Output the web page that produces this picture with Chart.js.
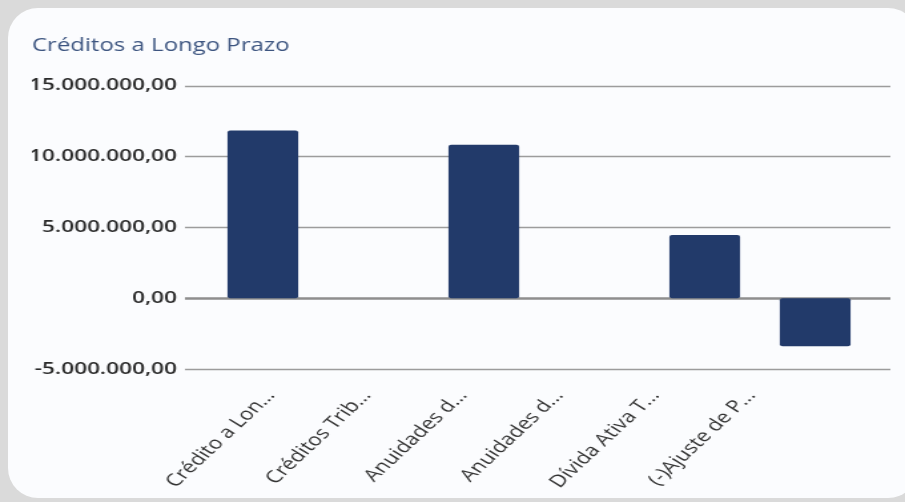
<!DOCTYPE html>
<html>
<head>
<meta charset="utf-8">
<script src="https://cdn.jsdelivr.net/npm/chart.js@4/dist/chart.umd.min.js"></script>
<style>
  html, body { margin: 0; padding: 0; background: #dadada; }
  body { width: 905px; height: 502px; position: relative; overflow: hidden; }
  .card {
    position: absolute; left: 8px; top: 8px; width: 910px; height: 490px;
    background: #fbfcfe; border-radius: 30px;
  }
  #chart { position: absolute; left: 0; top: 0; }
</style>
</head>
<body>
<div class="card"></div>
<!-- drawn at 680px wide and shown at 905px: the reference is stretched sideways -->
<canvas id="chart" width="680" height="502" style="width:905px;height:502px"></canvas>
<script>
const categories = [
  'Crédito a Lon...',
  'Créditos Trib...',
  'Anuidades d...',
  'Anuidades d...',
  'Dívida Ativa T...',
  '(-)Ajuste de P...'
];
const values = [11840000, 0, 10830000, 0, 4450000, -3400000];
const yTicks = [-5000000, 0, 5000000, 10000000, 15000000];

const fmt = v => v.toLocaleString('pt-BR', { minimumFractionDigits: 2, maximumFractionDigits: 2 });

// horizontal lines run a bit past the plot area on both sides
const gridLines = {
  id: 'gridLines',
  beforeDatasetsDraw(chart) {
    const { ctx, chartArea, scales } = chart;
    ctx.save();
    yTicks.forEach(v => {
      const y = Math.round(scales.y.getPixelForValue(v)) + 0.5;
      ctx.beginPath();
      ctx.strokeStyle = v === 0 ? '#8e8e8e' : '#9c9c9c';
      ctx.lineWidth = v === 0 ? 2.5 : 1.5;
      ctx.moveTo(chartArea.left - 17, y);
      ctx.lineTo(chartArea.right + 15, y);
      ctx.stroke();
    });
    ctx.restore();
  }
};

new Chart(document.getElementById('chart'), {
  type: 'bar',
  data: {
    labels: categories,
    datasets: [{
      data: values,
      backgroundColor: '#223a6a',
      borderRadius: 2,
      borderSkipped: false,
      barPercentage: 0.8,
      categoryPercentage: 0.8
    }]
  },
  options: {
    responsive: false,
    animation: false,
    devicePixelRatio: 1,
    layout: { padding: { left: 24, right: 26, top: 20, bottom: 0 } },
    plugins: {
      legend: { display: false },
      tooltip: { enabled: false },
      title: {
        display: true,
        text: 'Créditos a Longo Prazo',
        align: 'start',
        color: '#3d5580',
        font: { family: 'Open Sans', size: 18, weight: '500' },
        padding: { top: 15, bottom: 29 }
      }
    },
    scales: {
      x: { display: false },
      // label axis: in the reference the names sit on a tighter pitch than the bars
      labelsX: {
        type: 'linear',
        position: 'bottom',
        bounds: 'data',
        offset: false,
        min: -0.656,
        max: 6.24,
        afterBuildTicks(scale) { scale.ticks = categories.map((c, i) => ({ value: i })); },
        grid: { display: false, drawTicks: false },
        border: { display: false },
        ticks: {
          color: '#333333',
          font: { family: 'Open Sans', size: 17, weight: 'normal' },
          minRotation: 51,
          maxRotation: 51,
          autoSkip: false,
          padding: 17,
          callback: v => categories[v]
        },
        afterFit(scale) { scale.height = 133; }
      },
      y: {
        min: -5000000,
        max: 15000000,
        afterBuildTicks(scale) { scale.ticks = yTicks.map(v => ({ value: v })); },
        grid: { display: false, drawTicks: false },
        border: { display: false },
        ticks: {
          color: '#2a2a2a',
          font: { family: 'Open Sans', size: 17, weight: '600' },
          padding: 23,
          callback: v => fmt(v)
        },
        afterFit(scale) { scale.width = 132; }
      }
    }
  },
  plugins: [gridLines]
});
</script>
</body>
</html>
